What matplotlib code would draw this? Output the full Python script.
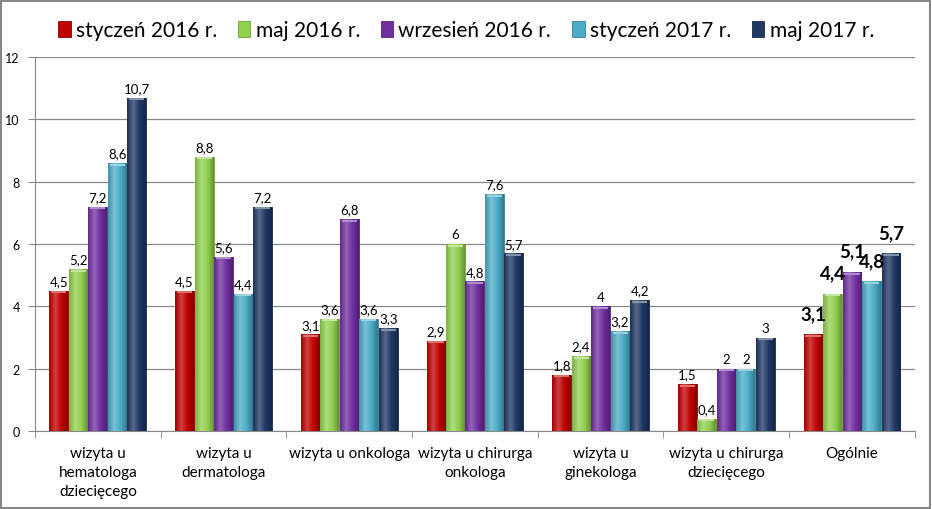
import matplotlib.pyplot as plt
import numpy as np
from matplotlib.colors import LinearSegmentedColormap, to_rgb

plt.rcParams['font.family'] = ['Lato', 'DejaVu Sans']

categories = ['wizyta u\nhematologa\ndziecięcego', 'wizyta u\ndermatologa', 'wizyta u onkologa',
              'wizyta u chirurga\nonkologa', 'wizyta u\nginekologa', 'wizyta u chirurga\ndziecięcego',
              'Ogólnie']
series = ['styczeń 2016 r.', 'maj 2016 r.', 'wrzesień 2016 r.', 'styczeń 2017 r.', 'maj 2017 r.']
colors = ['#C00000', '#92D050', '#7030A0', '#4BACC6', '#1F3864']

sty_2016 = [4.5, 4.5, 3.1, 2.9, 1.8, 1.5, 3.1]
maj_2016 = [5.2, 8.8, 3.6, 6.0, 2.4, 0.4, 4.4]
wrz_2016 = [7.2, 5.6, 6.8, 4.8, 4.0, 2.0, 5.1]
sty_2017 = [8.6, 4.4, 3.6, 7.6, 3.2, 2.0, 4.8]
maj_2017 = [10.7, 7.2, 3.3, 5.7, 4.2, 3.0, 5.7]
values = [sty_2016, maj_2016, wrz_2016, sty_2017, maj_2017]


def fmt(v):
    s = ('%g' % v)
    return s.replace('.', ',')


def shade(c, f):
    r, g, b = to_rgb(c)
    if f >= 0:
        return (r + (1 - r) * f, g + (1 - g) * f, b + (1 - b) * f)
    return (r * (1 + f), g * (1 + f), b * (1 + f))


fig = plt.figure(figsize=(9.32, 5.1), dpi=100, facecolor='white')
ax = fig.add_axes([0.0376, 0.153, 0.944, 0.733])

x = np.arange(len(categories))
w = 0.155
for i, (name, vals, c) in enumerate(zip(series, values, colors)):
    pos = x + (i - 2) * w
    bars = ax.bar(pos, vals, width=w * 0.97, color=c, label=name, zorder=3,
                  edgecolor=shade(c, -0.25), linewidth=0.6)
    cmap = LinearSegmentedColormap.from_list('g', [shade(c, -0.15), shade(c, 0.25), c, shade(c, -0.3)])
    grad = np.linspace(0, 1, 64).reshape(1, -1)
    for b, v, p in zip(bars, vals, pos):
        im = ax.imshow(grad, cmap=cmap, aspect='auto', zorder=3.5,
                       extent=(b.get_x(), b.get_x() + b.get_width(), 0, v))
        im.set_clip_path(b)
        # light cap on top
        ax.plot([b.get_x() + b.get_width() * 0.1, b.get_x() + b.get_width() * 0.9], [v - 0.05, v - 0.05],
                color=shade(c, 0.45), lw=1.5, zorder=4, solid_capstyle='butt')
        big = (p > 5.5)
        ax.text(p, v + (0.12 if not big else 0.4), fmt(v), ha='center', va='bottom',
                fontsize=13.5 if big else 9.5, fontweight='bold' if big else 'normal',
                color='black', zorder=5)

ax.set_xlim(-0.5, len(categories) - 0.5)
ax.set_ylim(0, 12)
ax.set_yticks(range(0, 13, 2))
ax.yaxis.grid(True, color='#888888', linewidth=0.9, zorder=0)
ax.set_axisbelow(True)
ax.set_xticks(x)
ax.set_xticklabels(categories, fontsize=11, linespacing=1.45)
ax.tick_params(axis='x', length=0, pad=11)
ax.set_xticks(np.arange(-0.5, len(categories)), minor=True)
ax.tick_params(axis='x', which='minor', length=5, color='#888888')
ax.tick_params(axis='y', labelsize=9, length=5, color='#888888', pad=6)
for s in ['top', 'right']:
    ax.spines[s].set_visible(False)
for s in ['left', 'bottom']:
    ax.spines[s].set_color('#888888')

fig.legend(loc='upper center', bbox_to_anchor=(0.5, 0.995), ncol=5, frameon=False,
           fontsize=15, handlelength=0.6, handleheight=0.8, handletextpad=0.25, columnspacing=1.0)

fig.patches.append(plt.Rectangle((0.001, 0.001), 0.997, 0.996, transform=fig.transFigure,
                                 fill=False, edgecolor='#868686', linewidth=1.5))

fig.savefig('out.png', dpi=100)
